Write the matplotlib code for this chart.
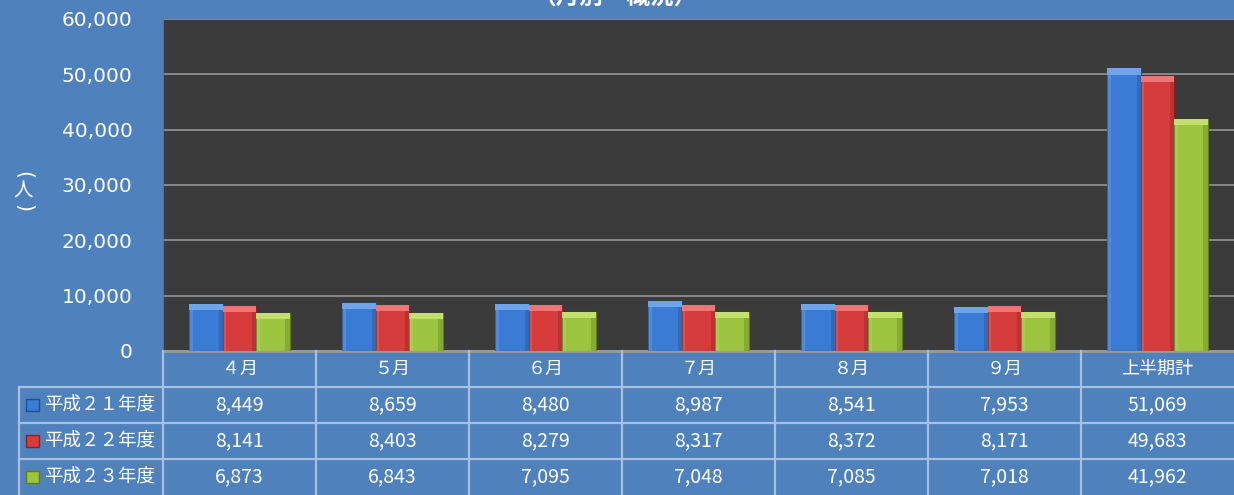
import numpy as np
import matplotlib.pyplot as plt
from matplotlib.patches import Rectangle
from matplotlib.lines import Line2D

plt.rcParams['font.family'] = ['Noto Sans CJK JP', 'DejaVu Sans']

# data
categories = ["４月", "５月", "６月", "７月", "８月", "９月", "上半期計"]
series_names = ["平成２１年度", "平成２２年度", "平成２３年度"]
h21 = [8449, 8659, 8480, 8987, 8541, 7953, 51069]
h22 = [8141, 8403, 8279, 8317, 8372, 8171, 49683]
h23 = [6873, 6843, 7095, 7048, 7085, 7018, 41962]
values = [h21, h22, h23]
yticks = [0, 10000, 20000, 30000, 40000, 50000, 60000]

colors = ["#3A7BD5", "#D63C3C", "#9CC43E"]
dark = ["#1F4F8F", "#8E2222", "#5F7E1E"]
light = ["#6FA3EA", "#EA7676", "#C3E06F"]
bg = "#4F81BD"
grid_c = "#A9BFDD"

W, H = 1234, 495
fig = plt.figure(figsize=(W / 100, H / 100), dpi=100, facecolor=bg)

# plot area in pixels
left, right, top, bottom = 163, 1234, 19, 351
ax = fig.add_axes([left / W, 1 - bottom / H, (right - left) / W, (bottom - top) / H])
ax.set_facecolor("#3B3B3B")
ax.set_xlim(0, len(categories))
ax.set_ylim(0, 60000)
ax.set_yticks(yticks)
ax.set_yticklabels([f"{v:,}" for v in yticks], color="white", fontsize=14.5,
                   family="DejaVu Sans")
ax.tick_params(axis="y", length=0, pad=22)
ax.set_xticks([])
ax.yaxis.grid(True, color="#8E8E8E", linewidth=1.3)
ax.set_axisbelow(True)
for s in ["top", "right"]:
    ax.spines[s].set_visible(False)
ax.spines["left"].set_color("#6E6E6E")
ax.spines["bottom"].set_color("#9A9A9A")
ax.spines["bottom"].set_linewidth(2)

bw = 0.22
offsets = [-0.217, 0.0, 0.217]
cap = 1100  # bevel height in data units
x = np.arange(len(categories)) + 0.5
for k in range(3):
    xs = x + offsets[k]
    ax.bar(xs, values[k], width=bw, color=colors[k], edgecolor=dark[k], linewidth=0.8, zorder=3)
    # lighter bevel on top and thin darker sides for a 3D look
    for xi, v in zip(xs, values[k]):
        ax.add_patch(Rectangle((xi - bw / 2, v - cap), bw, cap, facecolor=light[k],
                               edgecolor="none", zorder=4))
        ax.add_patch(Rectangle((xi + bw / 2 - 0.03, 0), 0.03, v - cap, facecolor=dark[k],
                               alpha=0.35, edgecolor="none", zorder=4))
        ax.add_patch(Rectangle((xi - bw / 2, 0), 0.025, v - cap, facecolor="white",
                               alpha=0.12, edgecolor="none", zorder=4))

# y label "（人）" written vertically: parens turned, 人 upright
fig.text(23 / W, 1 - 175 / H, "(", color="white", fontsize=15, ha="center", va="center",
         rotation=-90, family="DejaVu Sans")
fig.text(23 / W, 1 - 191 / H, "人", color="white", fontsize=14, ha="center", va="center")
fig.text(23 / W, 1 - 208 / H, ")", color="white", fontsize=15, ha="center", va="center",
         rotation=-90, family="DejaVu Sans")

# title (cut off at top, as in the original)
fig.text(615 / W, 1 - 9 / H, "（月別・概況）", color="white", fontsize=17,
         fontweight="bold", ha="center", va="bottom")

# data table below the plot
col_edges = np.linspace(left, right, len(categories) + 1)
row_edges = [351, 387, 423, 459, 495]
lw = 1.6


def fx(px):
    return px / W


def fy(py):
    return 1 - py / H


# horizontal lines
for r in row_edges[1:-1]:
    fig.add_artist(Line2D([fx(19), fx(W)], [fy(r), fy(r)], color=grid_c, lw=lw))
# vertical lines
for c in col_edges[:-1]:
    fig.add_artist(Line2D([fx(c), fx(c)], [fy(351), fy(495)], color=grid_c, lw=lw))
fig.add_artist(Line2D([fx(19), fx(19)], [fy(387), fy(495)], color=grid_c, lw=lw))

# header
for i, cat in enumerate(categories):
    cx = (col_edges[i] + col_edges[i + 1]) / 2
    fig.text(fx(cx), fy((row_edges[0] + row_edges[1]) / 2), cat, color="white",
             fontsize=13, ha="center", va="center")

# rows
for k in range(3):
    cy = (row_edges[k + 1] + row_edges[k + 2]) / 2
    fig.add_artist(Rectangle((fx(26), fy(cy + 6)), 13 / W, 12 / H, transform=fig.transFigure,
                             facecolor=colors[k], edgecolor=dark[k], lw=1))
    fig.text(fx(44), fy(cy), series_names[k], color="white", fontsize=13.3,
             ha="left", va="center")
    for i, v in enumerate(values[k]):
        cx = (col_edges[i] + col_edges[i + 1]) / 2
        fig.text(fx(cx), fy(cy), f"{v:,}", color="white", fontsize=14,
                 ha="center", va="center")

fig.savefig("out.png", dpi=100, facecolor=bg)
